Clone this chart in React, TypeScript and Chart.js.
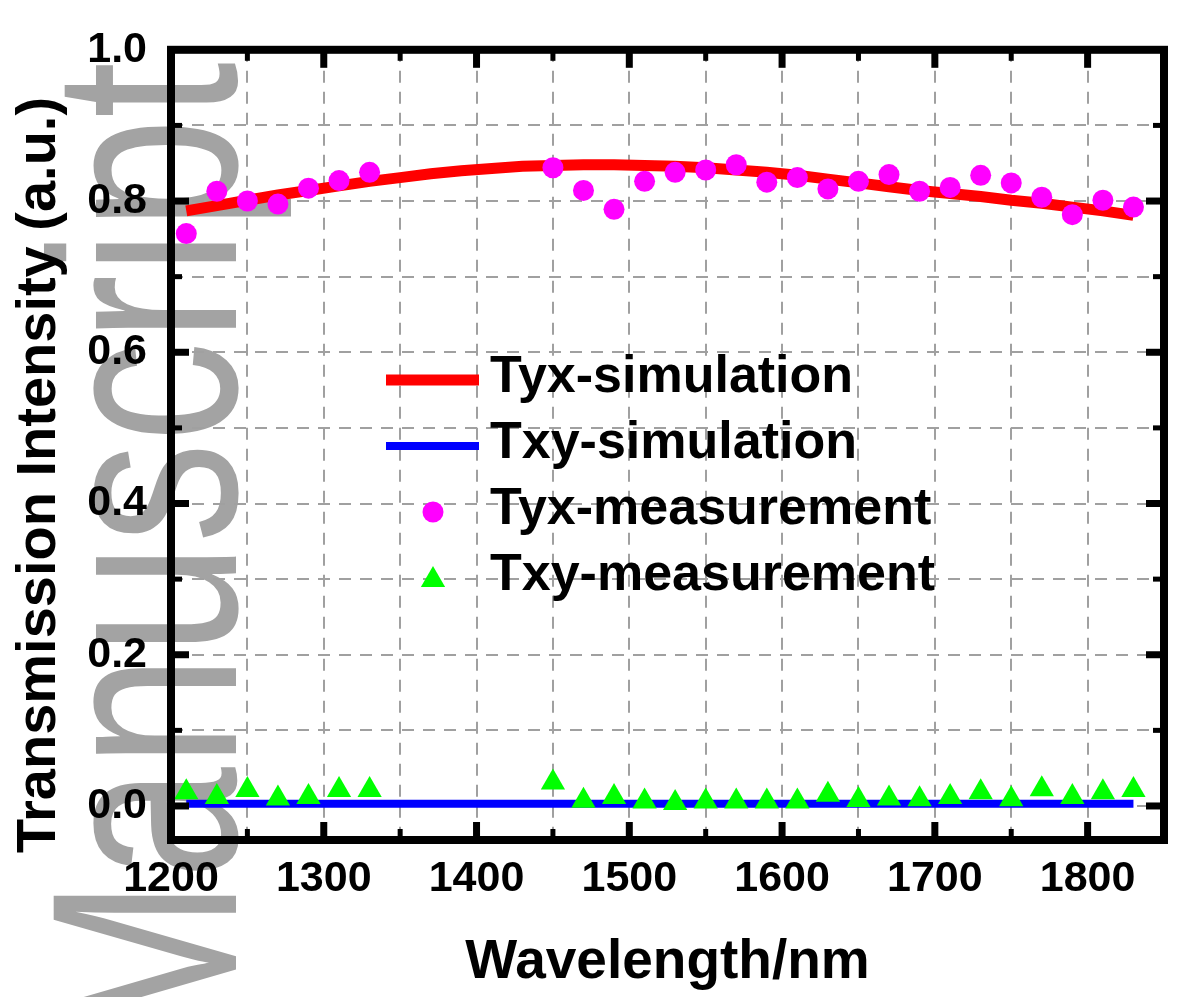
import React, { useEffect, useRef } from 'react';
import { Chart, registerables } from 'chart.js';

Chart.register(...registerables);

// ---------- data ----------
const simWavelengths = [
  1210, 1230, 1250, 1270, 1290, 1310, 1330, 1350, 1370, 1390, 1410, 1430, 1450, 1470, 1490, 1510,
  1530, 1550, 1570, 1590, 1610, 1630, 1650, 1670, 1690, 1710, 1730, 1750, 1770, 1790, 1810, 1830,
];
const tyxSimulation = [
  0.787, 0.794, 0.801, 0.808, 0.814, 0.820, 0.826, 0.831, 0.836, 0.840, 0.843, 0.846, 0.847, 0.848, 0.848, 0.847,
  0.846, 0.844, 0.841, 0.838, 0.834, 0.829, 0.824, 0.819, 0.814, 0.810, 0.806, 0.801, 0.797, 0.792, 0.787, 0.781,
];
const txySimulation = [
  0.003, 0.003, 0.003, 0.003, 0.003, 0.003, 0.003, 0.003, 0.003, 0.003, 0.003, 0.003, 0.003, 0.003, 0.003, 0.003,
  0.003, 0.003, 0.003, 0.003, 0.003, 0.003, 0.003, 0.003, 0.003, 0.003, 0.003, 0.003, 0.003, 0.003, 0.003, 0.003,
];
const measWavelengths = [
  1210, 1230, 1250, 1270, 1290, 1310, 1330, 1450, 1470, 1490, 1510, 1530, 1550, 1570, 1590, 1610,
  1630, 1650, 1670, 1690, 1710, 1730, 1750, 1770, 1790, 1810, 1830,
];
const tyxMeasurement = [
  0.757, 0.813, 0.800, 0.796, 0.817, 0.827, 0.838, 0.844, 0.814, 0.789, 0.826, 0.838, 0.841, 0.848, 0.825, 0.831,
  0.816, 0.826, 0.835, 0.813, 0.818, 0.834, 0.824, 0.805, 0.782, 0.801, 0.792,
];
const txyMeasurement = [
  0.018, 0.012, 0.021, 0.010, 0.012, 0.021, 0.021, 0.031, 0.007, 0.012, 0.006, 0.004, 0.006, 0.006, 0.006, 0.006,
  0.015, 0.008, 0.010, 0.009, 0.012, 0.018, 0.009, 0.022, 0.012, 0.018, 0.021,
];
const seriesLabels = ['Tyx-simulation', 'Txy-simulation', 'Tyx-measurement', 'Txy-measurement'];
const xTickValues = [1200, 1250, 1300, 1350, 1400, 1450, 1500, 1550, 1600, 1650, 1700, 1750, 1800, 1850];
const xTickLabels = ['1200', '1300', '1400', '1500', '1600', '1700', '1800'];
const yTickValues = [0, 0.1, 0.2, 0.3, 0.4, 0.5, 0.6, 0.7, 0.8, 0.9, 1.0];
const yTickLabels = ['0.0', '0.2', '0.4', '0.6', '0.8', '1.0'];
const xTitle = 'Wavelength/nm';
const yTitle = 'Transmission Intensity (a.u.)';
const watermarkText = 'Manuscript';

const FONT = '"Liberation Sans", Arial, sans-serif';

const toPoints = (xs: number[], ys: number[]) => xs.map((x, i) => ({ x, y: ys[i] }));

const isMajorX = (v: number) => xTickLabels.includes(String(v));
const isMajorY = (v: number) => yTickLabels.includes(v.toFixed(1));

const backgroundPlugin = {
  id: 'bgWatermark',
  beforeDraw(chart: any) {
    const { ctx, width, height } = chart;
    ctx.save();
    ctx.fillStyle = '#ffffff';
    ctx.fillRect(0, 0, width, height);
    ctx.fillStyle = '#a3a3a3';
    ctx.font = `265px ${FONT}`;
    ctx.translate(236, 62);
    ctx.rotate(-Math.PI / 2);
    ctx.scale(0.76, 1);
    ctx.textAlign = 'right';
    ctx.textBaseline = 'alphabetic';
    ctx.fillText(watermarkText, 0, 0);
    ctx.restore();
  },
};

const framePlugin = {
  id: 'frameTicksLegend',
  afterDraw(chart: any) {
    const { ctx, chartArea: a, scales } = chart;
    ctx.save();
    // frame
    ctx.strokeStyle = '#000';
    ctx.lineWidth = 8;
    ctx.lineCap = 'butt';
    ctx.strokeRect(a.left, a.top, a.right - a.left, a.bottom - a.top);
    const seg = (x1: number, y1: number, x2: number, y2: number) => {
      ctx.beginPath();
      ctx.moveTo(x1, y1);
      ctx.lineTo(x2, y2);
      ctx.stroke();
    };
    // inward ticks on all four sides
    for (const v of xTickValues) {
      const px = scales.x.getPixelForValue(v);
      if (px <= a.left + 2 || px >= a.right - 2) continue;
      const major = isMajorX(v);
      const len = major ? 18 : 11;
      ctx.lineWidth = major ? 7 : 5;
      seg(px, a.bottom, px, a.bottom - len);
      seg(px, a.top, px, a.top + len);
    }
    for (const v of yTickValues) {
      const py = scales.y.getPixelForValue(v);
      if (py <= a.top + 2 || py >= a.bottom - 2) continue;
      const major = isMajorY(v);
      const len = major ? 18 : 11;
      ctx.lineWidth = major ? 7 : 5;
      seg(a.left, py, a.left + len, py);
      seg(a.right, py, a.right - len, py);
    }

    // y-axis title
    ctx.fillStyle = '#000';
    ctx.font = `bold 56px ${FONT}`;
    ctx.save();
    ctx.translate(40, 475);
    ctx.rotate(-Math.PI / 2);
    ctx.textAlign = 'center';
    ctx.textBaseline = 'middle';
    ctx.fillText(yTitle, 0, 0);
    ctx.restore();

    // legend
    const ds = chart.data.datasets;
    const baselines = [392, 458, 524, 590];
    const markerX1 = 386;
    const markerX2 = 479;
    const markerCx = 433;
    ctx.font = `bold 52px ${FONT}`;
    ctx.textAlign = 'left';
    ctx.textBaseline = 'alphabetic';
    ds.forEach((d: any, i: number) => {
      const by = baselines[i];
      const my = by - 12;
      if (d.showLine) {
        ctx.strokeStyle = d.borderColor;
        ctx.lineWidth = d.borderWidth;
        ctx.lineCap = 'butt';
        seg(markerX1, my, markerX2, my);
      } else if (d.pointStyle === 'triangle') {
        const r = d.pointRadius;
        const cy = my + 2;
        ctx.fillStyle = d.backgroundColor;
        ctx.beginPath();
        let rad = 0;
        ctx.moveTo(markerCx + Math.sin(rad) * r, cy - Math.cos(rad) * r);
        rad += (2 * Math.PI) / 3;
        ctx.lineTo(markerCx + Math.sin(rad) * r, cy - Math.cos(rad) * r);
        rad += (2 * Math.PI) / 3;
        ctx.lineTo(markerCx + Math.sin(rad) * r, cy - Math.cos(rad) * r);
        ctx.closePath();
        ctx.fill();
      } else {
        ctx.fillStyle = d.backgroundColor;
        ctx.beginPath();
        ctx.arc(markerCx, my, d.pointRadius, 0, Math.PI * 2);
        ctx.fill();
      }
      ctx.fillStyle = '#000';
      ctx.fillText(d.label, 490, by);
    });
    ctx.restore();
  },
};

export default function App() {
  const ref = useRef<HTMLCanvasElement>(null);

  useEffect(() => {
    if (!ref.current) return;
    const chart = new Chart(ref.current, {
      type: 'scatter',
      data: {
        datasets: [
          {
            label: seriesLabels[0],
            data: toPoints(simWavelengths, tyxSimulation),
            showLine: true,
            borderColor: '#ff0000',
            backgroundColor: '#ff0000',
            borderWidth: 11,
            pointRadius: 0,
            tension: 0,
            order: 2,
          } as any,
          {
            label: seriesLabels[1],
            data: toPoints(simWavelengths, txySimulation),
            showLine: true,
            borderColor: '#0000ff',
            backgroundColor: '#0000ff',
            borderWidth: 8,
            pointRadius: 0,
            tension: 0,
            order: 2,
          } as any,
          {
            label: seriesLabels[2],
            data: toPoints(measWavelengths, tyxMeasurement),
            showLine: false,
            pointStyle: 'circle',
            pointRadius: 10.5,
            borderWidth: 0,
            backgroundColor: '#ff00ff',
            borderColor: '#ff00ff',
            order: 1,
          } as any,
          {
            label: seriesLabels[3],
            data: toPoints(measWavelengths, txyMeasurement),
            showLine: false,
            pointStyle: 'triangle',
            pointRadius: 14,
            borderWidth: 0,
            backgroundColor: '#00ff00',
            borderColor: '#00ff00',
            order: 1,
          } as any,
        ],
      },
      options: {
        responsive: false,
        animation: false,
        devicePixelRatio: 1,
        layout: { padding: { top: 37, right: 6, bottom: 0, left: 0 } },
        plugins: {
          legend: { display: false },
          tooltip: { enabled: false },
        },
        scales: {
          x: {
            type: 'linear',
            position: 'bottom',
            min: 1200,
            max: 1850,
            offset: false,
            afterBuildTicks: (scale: any) => {
              scale.ticks = xTickValues.map((v) => ({ value: v }));
            },
            afterFit: (scale: any) => {
              scale.height = 157;
            },
            ticks: {
              autoSkip: false,
              maxRotation: 0,
              padding: 13,
              color: '#000',
              font: { family: FONT, size: 43, weight: 'bold' },
              callback: (v: any) => (isMajorX(Number(v)) ? String(v) : ''),
            },
            grid: {
              color: '#a0a0a0',
              lineWidth: 2,
              drawTicks: false,
            },
            border: { display: false, dash: [12, 9] },
            title: {
              display: true,
              text: xTitle,
              color: '#000',
              font: { family: FONT, size: 55, weight: 'bold' },
              padding: { top: 0, bottom: 1 },
            },
          },
          y: {
            type: 'linear',
            min: -0.045,
            max: 1.0,
            afterBuildTicks: (scale: any) => {
              scale.ticks = yTickValues.map((v) => ({ value: v }));
            },
            afterFit: (scale: any) => {
              scale.width = 171;
            },
            ticks: {
              autoSkip: false,
              padding: 24,
              color: '#000',
              font: { family: FONT, size: 43, weight: 'bold' },
              callback: (v: any) => (isMajorY(Number(v)) ? Number(v).toFixed(1) : ''),
            },
            grid: {
              color: '#a0a0a0',
              lineWidth: 2,
              drawTicks: false,
            },
            border: { display: false, dash: [12, 9] },
          },
        },
      } as any,
      plugins: [backgroundPlugin, framePlugin],
    });
    return () => chart.destroy();
  }, []);

  return (
    <div style={{ position: 'absolute', left: 0, top: 0, width: 1178, height: 997, background: '#fff' }}>
      <canvas ref={ref} width={1178} height={997} style={{ display: 'block', width: 1178, height: 997 }} />
    </div>
  );
}
